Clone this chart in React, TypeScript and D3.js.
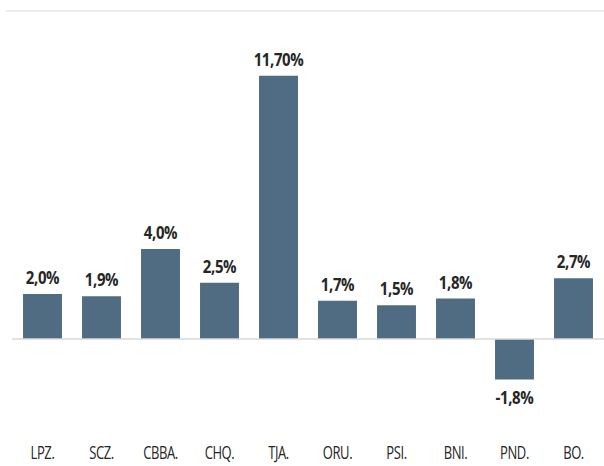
import React from "react";
import * as d3 from "d3";

const categories = ["LPZ.", "SCZ.", "CBBA.", "CHQ.", "TJA.", "ORU.", "PSI.", "BNI.", "PND.", "BO."];
const values = [2.0, 1.9, 4.0, 2.5, 11.7, 1.7, 1.5, 1.8, -1.8, 2.7];
const valueLabels = ["2,0%", "1,9%", "4,0%", "2,5%", "11,70%", "1,7%", "1,5%", "1,8%", "-1,8%", "2,7%"];

export default function App() {
  const width = 604;
  const height = 466;
  const x = d3.scaleBand<string>().domain(categories).range([13, 603]).paddingInner(0.34).paddingOuter(0.17);
  const y = d3.scaleLinear().domain([-4, 14.6]).range([429, 10.5]);
  const y0 = y(0);
  const fill = "#4f6c82";
  return (
    <svg width={width} height={height} style={{ position: "absolute", left: 0, top: 0, background: "#fff" }}>
      <line x1={6} x2={604} y1={11} y2={11} stroke="#d9d9d9" strokeWidth={1} />
      {values.map((v, i) => {
        const cx = (x(categories[i]) as number);
        const top = v >= 0 ? y(v) : y0;
        const h = Math.abs(y(v) - y0);
        return <rect key={i} x={cx} y={top} width={x.bandwidth()} height={h} fill={fill} />;
      })}
      <line x1={12} x2={604} y1={y0} y2={y0} stroke="#d9d9d9" strokeWidth={1.5} />
      {values.map((v, i) => {
        const cx = (x(categories[i]) as number) + x.bandwidth() / 2;
        const ty = v >= 0 ? y(v) - 10 : y(v) + 24;
        return (
          <text key={"l" + i} transform={`translate(${cx},${ty}) scale(1,1.15)`} textAnchor="middle" fontFamily="'Open Sans', sans-serif" fontWeight={700} fontSize={15} fill="#262626" letterSpacing={-0.4}>
            {valueLabels[i]}
          </text>
        );
      })}
      {categories.map((c, i) => {
        const cx = (x(c) as number) + x.bandwidth() / 2;
        return (
          <text key={"c" + i} transform={`translate(${cx},459) scale(1,1.35)`} textAnchor="middle" fontFamily="'Open Sans', sans-serif" fontSize={13} fill="#262626" letterSpacing={-0.4}>
            {c}
          </text>
        );
      })}
    </svg>
  );
}
